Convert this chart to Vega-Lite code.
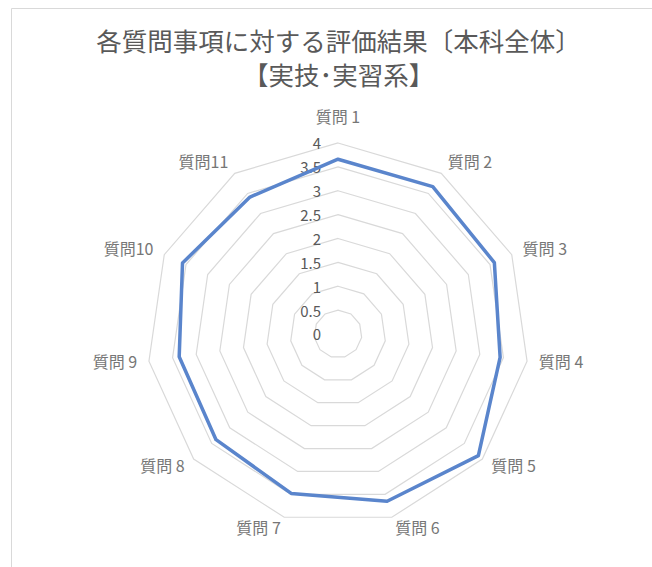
{
  "$schema": "https://vega.github.io/schema/vega-lite/v6.json",
  "width": 645,
  "height": 563,
  "autosize": {"type": "none"},
  "padding": {"left": 11, "top": 8, "right": 0, "bottom": 0},
  "background": "white",
  "config": {"view": {"stroke": "#d9d9d9", "strokeWidth": 1}},
  "title": {
    "text": ["各質問事項に対する評価結果〔本科全体〕", "【実技･実習系】"],
    "anchor": "middle",
    "frame": "group",
    "font": "Noto Sans CJK JP",
    "fontSize": 25.5,
    "fontWeight": "normal",
    "color": "#595959",
    "lineHeight": 34,
    "baseline": "top",
    "offset": -82,
    "dx": 5
  },
  "datasets": {
    "scores": [
      {"q": "質問 1", "i": 0, "v": 3.66},
      {"q": "質問 2", "i": 1, "v": 3.67},
      {"q": "質問 3", "i": 2, "v": 3.6},
      {"q": "質問 4", "i": 3, "v": 3.43},
      {"q": "質問 5", "i": 4, "v": 3.89},
      {"q": "質問 6", "i": 5, "v": 3.65},
      {"q": "質問 7", "i": 6, "v": 3.48},
      {"q": "質問 8", "i": 7, "v": 3.38},
      {"q": "質問 9", "i": 8, "v": 3.36},
      {"q": "質問10", "i": 9, "v": 3.58},
      {"q": "質問11", "i": 10, "v": 3.41}
    ],
    "grid": [
      {"k": 0, "ring": [0.5, 1, 1.5, 2, 2.5, 3, 3.5, 4]},
      {"k": 1, "ring": [0.5, 1, 1.5, 2, 2.5, 3, 3.5, 4]},
      {"k": 2, "ring": [0.5, 1, 1.5, 2, 2.5, 3, 3.5, 4]},
      {"k": 3, "ring": [0.5, 1, 1.5, 2, 2.5, 3, 3.5, 4]},
      {"k": 4, "ring": [0.5, 1, 1.5, 2, 2.5, 3, 3.5, 4]},
      {"k": 5, "ring": [0.5, 1, 1.5, 2, 2.5, 3, 3.5, 4]},
      {"k": 6, "ring": [0.5, 1, 1.5, 2, 2.5, 3, 3.5, 4]},
      {"k": 7, "ring": [0.5, 1, 1.5, 2, 2.5, 3, 3.5, 4]},
      {"k": 8, "ring": [0.5, 1, 1.5, 2, 2.5, 3, 3.5, 4]},
      {"k": 9, "ring": [0.5, 1, 1.5, 2, 2.5, 3, 3.5, 4]},
      {"k": 10, "ring": [0.5, 1, 1.5, 2, 2.5, 3, 3.5, 4]}
    ],
    "levels": [
      {"lv": 0, "t": "0"},
      {"lv": 0.5, "t": "0.5"},
      {"lv": 1, "t": "1"},
      {"lv": 1.5, "t": "1.5"},
      {"lv": 2, "t": "2"},
      {"lv": 2.5, "t": "2.5"},
      {"lv": 3, "t": "3"},
      {"lv": 3.5, "t": "3.5"},
      {"lv": 4, "t": "4"}
    ]
  },
  "layer": [
    {
      "data": {"name": "grid"},
      "transform": [
        {"flatten": ["ring"]},
        {"calculate": "datum.k * 2 * PI / 11", "as": "a"},
        {"calculate": "datum.ring * sin(datum.a)", "as": "gx"},
        {"calculate": "datum.ring * cos(datum.a)", "as": "gy"}
      ],
      "mark": {"type": "line", "interpolate": "linear-closed", "stroke": "#d9d9d9", "strokeWidth": 1.2},
      "encoding": {
        "x": {"field": "gx", "type": "quantitative", "scale": {"domain": [-6.8482, 6.6597], "nice": false, "zero": false}, "axis": null},
        "y": {"field": "gy", "type": "quantitative", "scale": {"domain": [-4.9634, 6.8272], "nice": false, "zero": false}, "axis": null},
        "detail": {"field": "ring", "type": "nominal"},
        "order": {"field": "k", "type": "quantitative"}
      }
    },
    {
      "data": {"name": "levels"},
      "mark": {"type": "text", "align": "right", "baseline": "middle", "dx": -17, "dy": 1.5, "font": "Noto Sans CJK JP", "fontSize": 15, "fill": "#595959"},
      "encoding": {
        "x": {"datum": 0, "type": "quantitative"},
        "y": {"field": "lv", "type": "quantitative"},
        "text": {"field": "t"}
      }
    },
    {
      "data": {"name": "scores"},
      "transform": [
        {"calculate": "datum.i * 2 * PI / 11", "as": "a"},
        {"calculate": "datum.v * sin(datum.a)", "as": "px"},
        {"calculate": "datum.v * cos(datum.a)", "as": "py"}
      ],
      "mark": {"type": "line", "interpolate": "linear-closed", "stroke": "#5a85cc", "strokeWidth": 3.5, "strokeJoin": "round"},
      "encoding": {
        "x": {"field": "px", "type": "quantitative"},
        "y": {"field": "py", "type": "quantitative"},
        "order": {"field": "i", "type": "quantitative"}
      }
    },
    {
      "data": {"name": "scores"},
      "transform": [
        {"calculate": "datum.i * 2 * PI / 11", "as": "a"},
        {"calculate": "4.25 * sin(datum.a)", "as": "lx"},
        {"calculate": "4.25 * cos(datum.a)", "as": "ly"},
        {"filter": "datum.i == 0"}
      ],
      "mark": {"type": "text", "align": "center", "baseline": "middle", "dy": -13, "font": "Noto Sans CJK JP", "fontSize": 16, "fill": "#767676"},
      "encoding": {
        "x": {"field": "lx", "type": "quantitative"},
        "y": {"field": "ly", "type": "quantitative"},
        "text": {"field": "q"}
      }
    },
    {
      "data": {"name": "scores"},
      "transform": [
        {"calculate": "datum.i * 2 * PI / 11", "as": "a"},
        {"calculate": "4.25 * sin(datum.a)", "as": "lx"},
        {"calculate": "4.25 * cos(datum.a)", "as": "ly"},
        {"filter": "datum.i >= 1 && datum.i <= 5"}
      ],
      "mark": {"type": "text", "align": "left", "baseline": "middle", "font": "Noto Sans CJK JP", "fontSize": 16, "fill": "#767676"},
      "encoding": {
        "x": {"field": "lx", "type": "quantitative"},
        "y": {"field": "ly", "type": "quantitative"},
        "text": {"field": "q"}
      }
    },
    {
      "data": {"name": "scores"},
      "transform": [
        {"calculate": "datum.i * 2 * PI / 11", "as": "a"},
        {"calculate": "4.25 * sin(datum.a)", "as": "lx"},
        {"calculate": "4.25 * cos(datum.a)", "as": "ly"},
        {"filter": "datum.i >= 6"}
      ],
      "mark": {"type": "text", "align": "right", "baseline": "middle", "font": "Noto Sans CJK JP", "fontSize": 16, "fill": "#767676"},
      "encoding": {
        "x": {"field": "lx", "type": "quantitative"},
        "y": {"field": "ly", "type": "quantitative"},
        "text": {"field": "q"}
      }
    }
  ]
}
